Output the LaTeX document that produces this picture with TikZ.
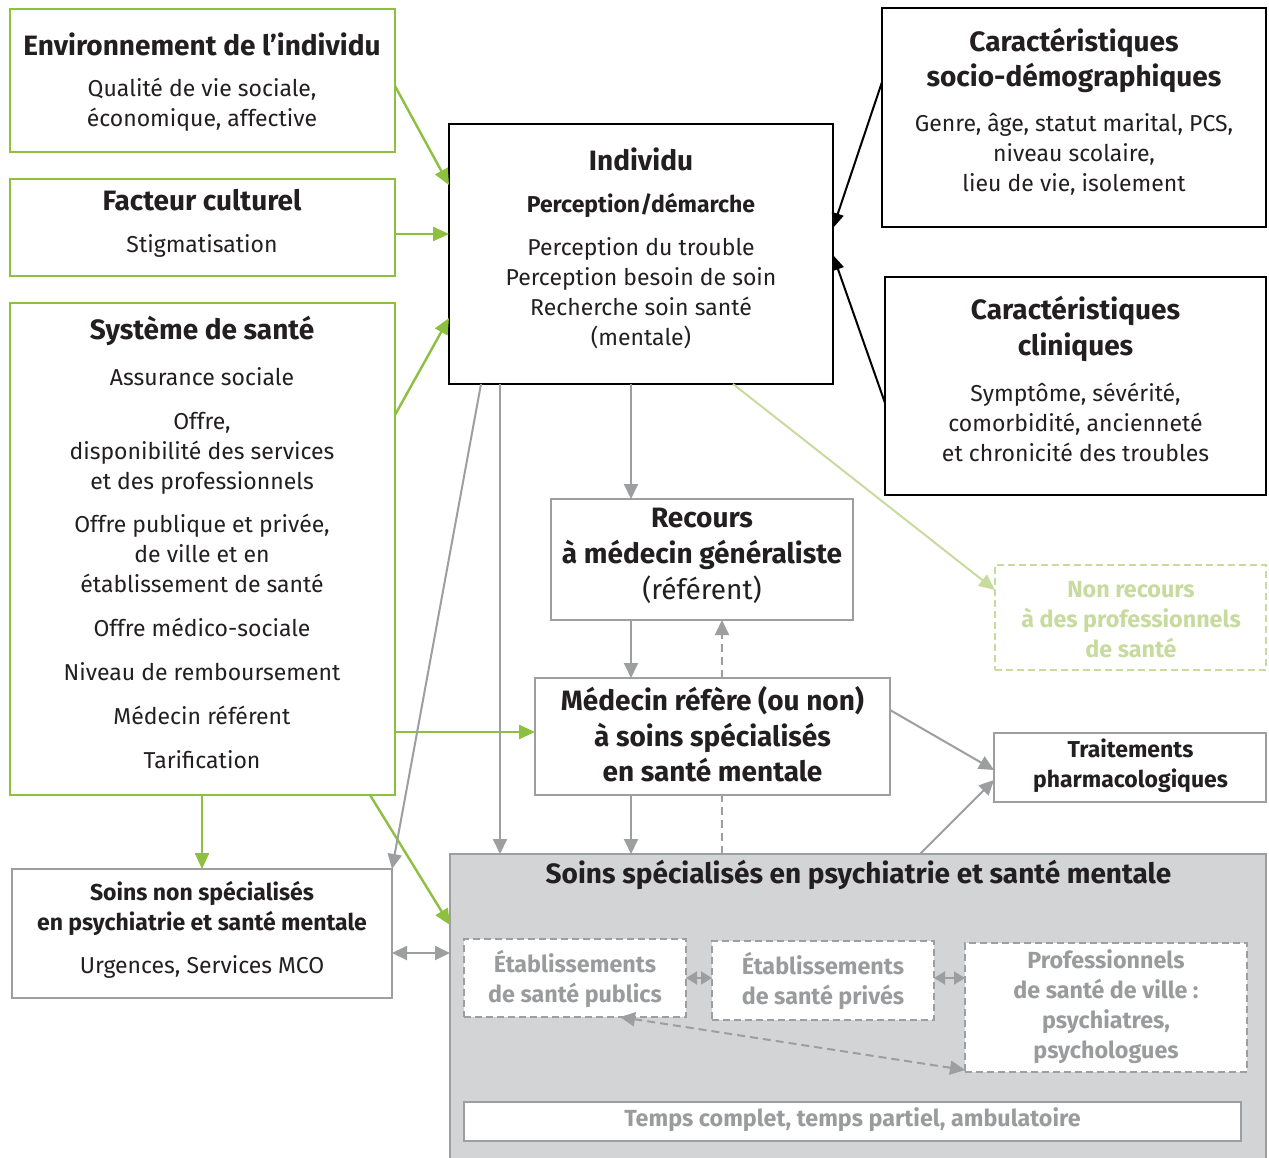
\documentclass[tikz,border=0pt]{standalone}
\usepackage{fontspec}
\setmainfont{Fira Sans}
\usetikzlibrary{arrows.meta,fit}
\definecolor{vert}{HTML}{8DC03F}
\definecolor{vertclair}{HTML}{C8DB9E}
\definecolor{gris}{HTML}{9D9EA0}
\definecolor{grisfond}{HTML}{D3D4D6}
\definecolor{encre}{HTML}{231F20}
\definecolor{gristexte}{HTML}{9A9B9D}
\begin{document}
\begin{tikzpicture}[x=1pt,y=-1pt,
  every node/.style={inner sep=0pt,outer sep=0pt,text=encre},
  gbox/.style={draw=vert,line width=2.4pt},
  kbox/.style={draw=black,line width=2.2pt},
  kbbox/.style={draw=black,line width=2.8pt},
  grbox/.style={draw=gris,line width=2pt,fill=white},
  dbox/.style={draw=gris,line width=2pt,fill=white,dash pattern=on 7pt off 4pt},
  vbox/.style={draw=vertclair,line width=2pt,dash pattern=on 7pt off 4pt},
  ttl/.style={font=\fontsize{28}{35.5}\selectfont\bfseries,align=center},
  ttm/.style={font=\fontsize{23}{30}\selectfont\bfseries,align=center},
  txt/.style={font=\fontsize{23}{30}\selectfont,align=center},
  gtx/.style={font=\fontsize{23.3}{30}\selectfont\bfseries,align=center,text=gristexte},
  garr/.style={draw=vert,line width=2.4pt,-{Triangle[length=16pt,width=14pt]}},
  larr/.style={draw=vertclair,line width=2pt,-{Triangle[length=16pt,width=14pt]}},
  karr/.style={draw=black,line width=2pt,-{Triangle[length=15pt,width=12pt]}},
  grarr/.style={draw=gris,line width=2pt,-{Triangle[length=15pt,width=14pt]}},
  grdbl/.style={draw=gris,line width=2pt,{Triangle[length=15pt,width=14pt]}-{Triangle[length=15pt,width=14pt]}},
  grsml/.style={draw=gris,line width=2pt,{Triangle[length=11pt,width=13pt]}-{Triangle[length=11pt,width=13pt]}},
  grdash/.style={draw=gris,line width=2pt,dash pattern=on 8pt off 5pt},
]
\useasboundingbox (0,0) rectangle (1269,1158);
\fill[white] (0,0) rectangle (1269,1158);

% ---- boxes ----
\node[gbox,fit={(10,9)(395,152)}] (env) {};
\node[gbox,fit={(10,179)(395,276)}] (cult) {};
\node[gbox,fit={(10,303)(395,795)}] (sys) {};
\node[kbbox,fit={(449,124)(833,384)}] (ind) {};
\node[kbox,fit={(882,8)(1266,227)}] (socio) {};
\node[kbox,fit={(885,277)(1266,495)}] (clin) {};
\node[grbox,fit={(551,499)(853,620)}] (rec) {};
\node[grbox,fit={(535,678)(890,795)}] (med) {};
\node[vbox,fit={(995,565)(1266,670)}] (nonrec) {};
\node[grbox,fit={(994,733)(1266,802)}] (trait) {};
\node[grbox,fit={(12,869)(392,998)}] (nonspec) {};
\node[draw=gris,line width=2pt,fill=grisfond,fit={(450,854)(1266,1175)}] (spec) {};
\node[dbox,fit={(464,939)(686,1017)}] (pub) {};
\node[dbox,fit={(712,941)(934,1020)}] (priv) {};
\node[dbox,fit={(965,943)(1247,1072)}] (prof) {};
\node[grbox,fit={(464,1102)(1241,1141)}] (temps) {};

% ---- texts ----
\node[ttl] (envT) at (202,44) {Environnement de l’individu};
\node[txt] (envB) at (202,105) {Qualité de vie sociale,\\économique, affective};
\node[ttl] (cultT) at (202,200) {Facteur culturel};
\node[txt] (cultB) at (202,246) {Stigmatisation};
\node[ttl] (sysT) at (202,331) {Système de santé};
\node[txt] (sysB) at (202,568) {Assurance sociale\\[14pt]Offre,\\disponibilité des services\\et des professionnels\\[13pt]Offre publique et privée,\\de ville et en\\établissement de santé\\[14pt]Offre médico-sociale\\[14pt]Niveau de remboursement\\[14pt]Médecin référent\\[14pt]Tarification};
\node[ttl] (indT) at (641,159) {Individu};
\node[ttm] (indP) at (641,205) {Perception/démarche};
\node[txt] (indB) at (641,293.5) {Perception du trouble\\Perception besoin de soin\\Recherche soin santé\\(mentale)};
\node[ttl] (socioT) at (1074,60.5) {Caractéristiques\\socio-démographiques};
\node[txt] (socioB) at (1074,154) {Genre, âge, statut marital, PCS,\\niveau scolaire,\\lieu de vie, isolement};
\node[ttl] (clinT) at (1075.5,329) {Caractéristiques\\cliniques};
\node[txt] (clinB) at (1075.5,422.5) {Symptôme, sévérité,\\comorbidité, ancienneté\\et chronicité des troubles};
\node[ttl,font=\fontsize{28}{36}\selectfont] (recT) at (702,556) {\bfseries Recours\\\bfseries à médecin généraliste\\(référent)};
\node[ttl] (medT) at (712.5,734.5) {Médecin réfère (ou non)\\à soins spécialisés\\en santé mentale};
\node[gtx,text=vertclair] (nonrecT) at (1131,619.5) {Non recours\\à des professionnels\\de santé};
\node[ttm] (traitT) at (1130.5,766) {Traitements\\pharmacologiques};
\node[ttm] (nonspecT) at (202,908) {Soins non spécialisés\\en psychiatrie et santé mentale};
\node[txt] (nonspecB) at (202,967) {Urgences, Services MCO};
\node[ttl] (specT) at (858.5,875) {Soins spécialisés en psychiatrie et santé mentale};
\node[gtx] (pubT) at (575,979) {Établissements\\de santé publics};
\node[gtx] (privT) at (823,981) {Établissements\\de santé privés};
\node[gtx] (profT) at (1106,1006.5) {Professionnels\\de santé de ville :\\psychiatres,\\psychologues};
\node[gtx] (tempsT) at (852.5,1120) {Temps complet, temps partiel, ambulatoire};

% ---- connectors ----
\draw[garr] (env.east |- 0,86) -- (ind.west |- 0,185);
\draw[garr] (cult.east |- 0,234) -- (ind.west |- 0,234);
\draw[garr] (sys.east |- 0,415) -- (ind.west |- 0,318);
\draw[garr] (sys.east |- 0,732) -- (med.west |- 0,732);
\draw[garr] (sys.south -| 202,0) -- (nonspec.north -| 202,0);
\draw[garr] (sys.south -| 370,0) -- (spec.west |- 0,925);
\draw[larr] (ind.south -| 733,0) -- (nonrec.west |- 0,590);
\draw[karr] (socio.west |- 0,82) -- (ind.east |- 0,228);
\draw[karr] (clin.west |- 0,403) -- (ind.east |- 0,255);
\draw[grarr] (ind.south -| 481,0) -- (nonspec.north east);
\draw[grarr] (ind.south -| 500,0) -- (spec.north -| 500,0);
\draw[grarr] (ind.south -| 631,0) -- (rec.north -| 631,0);
\draw[grarr] (rec.south -| 631,0) -- (med.north -| 631,0);
\draw[grarr] (med.south -| 631,0) -- (spec.north -| 631,0);
\draw[grdash] (spec.north -| 722,0) -- (med.south -| 722,0);
\draw[grdash,-{Triangle[length=15pt,width=14pt]}] (med.north -| 722,0) -- (rec.south -| 722,0);
\draw[grarr] (med.east |- 0,710) -- (trait.west |- 0,770);
\draw[grarr] (spec.north -| 920,0) -- (trait.west |- 0,780);
\draw[grdbl] (nonspec.east |- 0,953) -- (spec.west |- 0,953);
\draw[grsml] (pub.east |- 0,978) -- (priv.west |- 0,978);
\draw[grsml] (priv.east |- 0,978) -- (prof.west |- 0,978);
\draw[grdash,{Triangle[length=15pt,width=14pt]}-{Triangle[length=15pt,width=14pt]}] (pub.south -| 620,0) -- (prof.west |- 0,1070);
\end{tikzpicture}
\end{document}
